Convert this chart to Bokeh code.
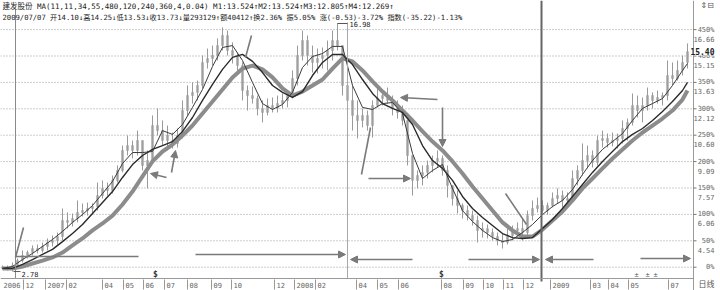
from bokeh.plotting import figure
from bokeh.models import Range1d, Arrow, NormalHead, Label
from bokeh.core.properties import value
from bokeh.embed import file_html
from bokeh.resources import INLINE

# ---------------- data (weekly bars) ----------------
bar_open = [3.01, 2.96, 3.01, 3.13, 3.41, 3.70, 3.87, 4.10, 3.99, 4.22,
            4.45, 4.56, 4.79, 5.71, 5.60, 5.82, 6.17, 6.28, 6.40, 6.51,
            7.14, 7.55, 7.43, 8.01, 8.58, 9.73, 10.01, 9.73, 10.30, 8.87,
            9.15, 11.16, 10.87, 10.30, 10.30, 10.13, 10.59, 12.02, 12.88, 13.06,
            13.46, 14.78, 15.01, 15.18, 15.75, 16.33, 15.47, 15.18, 14.60, 13.17,
            12.88, 12.71, 12.14, 11.91, 12.31, 12.14, 12.42, 12.60, 12.88, 13.86,
            15.18, 16.04, 15.18, 14.78, 15.01, 15.18, 15.47, 16.04, 15.75, 13.46,
            12.60, 11.74, 11.45, 11.74, 11.16, 12.31, 12.71, 12.88, 12.60, 12.14,
            11.91, 11.45, 9.44, 8.01, 8.29, 8.47, 8.87, 9.15, 9.27, 8.58,
            7.72, 6.97, 6.57, 6.28, 5.99, 5.71, 5.14, 5.25, 5.02, 4.79,
            4.56, 4.45, 4.85, 5.14, 5.25, 5.02, 5.99, 6.40, 6.57, 6.28,
            6.57, 6.97, 7.14, 6.86, 6.97, 8.12, 8.58, 9.15, 9.44, 9.04,
            10.30, 10.42, 10.19, 10.30, 10.42, 10.99, 11.34, 12.31, 12.02, 12.31,
            12.88, 12.60, 12.77, 12.88, 14.03, 13.86, 14.32, 14.78]
bar_high = [3.13, 3.13, 3.30, 3.53, 3.99, 3.99, 4.28, 4.33, 4.45, 4.68,
            4.85, 5.02, 6.40, 6.17, 6.11, 6.86, 6.69, 6.74, 6.69, 7.89,
            8.01, 7.89, 8.29, 8.87, 10.01, 10.59, 10.30, 10.87, 10.30, 9.73,
            11.74, 12.14, 11.45, 11.16, 10.76, 10.99, 12.60, 13.46, 13.63, 13.74,
            15.18, 15.58, 15.75, 16.16, 16.79, 16.61, 15.93, 15.35, 14.78, 13.46,
            13.40, 12.88, 12.60, 12.71, 12.77, 12.88, 13.00, 13.17, 14.32, 15.75,
            16.61, 16.33, 15.75, 15.58, 15.64, 16.04, 16.61, 16.98, 15.47, 14.03,
            13.46, 12.60, 12.14, 12.02, 12.60, 13.29, 13.17, 13.34, 12.88, 12.60,
            12.31, 11.45, 9.15, 8.58, 8.87, 9.15, 9.44, 9.73, 9.44, 8.87,
            7.72, 7.43, 6.69, 6.57, 6.28, 5.99, 5.60, 5.48, 5.25, 5.02,
            4.96, 5.25, 5.42, 5.60, 5.82, 6.28, 6.86, 7.03, 6.86, 6.74,
            7.32, 7.55, 7.43, 7.32, 8.58, 8.87, 10.13, 10.01, 9.73, 10.59,
            10.87, 10.70, 10.76, 10.70, 11.45, 11.56, 13.00, 12.88, 12.77, 13.34,
            13.06, 13.17, 13.06, 14.89, 14.78, 14.89, 15.18, 15.87]
bar_low = [2.90, 2.84, 2.78, 3.07, 3.30, 3.53, 3.70, 3.82, 3.87, 3.99,
           4.22, 4.33, 4.56, 5.25, 5.37, 5.60, 5.94, 5.99, 6.05, 6.28,
           6.97, 7.14, 7.26, 7.89, 8.47, 9.44, 9.27, 9.44, 8.58, 7.55,
           9.04, 10.59, 10.01, 9.73, 9.84, 9.90, 10.42, 11.74, 12.42, 12.60,
           13.29, 14.43, 14.60, 14.89, 15.47, 15.18, 14.72, 14.20, 12.60, 12.02,
           12.42, 11.74, 11.34, 11.74, 11.91, 11.91, 12.14, 12.20, 12.71, 13.46,
           14.89, 14.60, 14.20, 14.15, 14.43, 14.32, 14.89, 15.47, 12.88, 11.62,
           10.87, 10.42, 11.05, 10.87, 10.47, 12.20, 12.31, 12.42, 11.74, 11.56,
           11.16, 8.87, 7.14, 7.55, 7.72, 8.12, 8.47, 8.75, 8.29, 7.03,
           6.57, 6.11, 5.82, 5.71, 5.42, 4.45, 4.73, 4.68, 4.56, 4.28,
           4.10, 4.33, 4.56, 4.79, 4.56, 4.73, 5.71, 6.17, 6.11, 6.05,
           6.46, 6.69, 6.46, 6.51, 6.86, 7.72, 8.29, 8.70, 8.75, 8.87,
           9.90, 9.90, 9.96, 9.84, 10.13, 10.30, 11.16, 11.62, 11.34, 12.02,
           12.14, 12.42, 12.31, 12.60, 13.46, 13.74, 14.03, 14.43]
bar_close = [2.96, 3.01, 3.13, 3.41, 3.70, 3.87, 4.10, 3.99, 4.22, 4.45,
             4.56, 4.79, 5.71, 5.60, 5.82, 6.17, 6.28, 6.40, 6.51, 7.14,
             7.55, 7.43, 8.01, 8.58, 9.73, 10.01, 9.73, 10.30, 8.87, 9.15,
             11.16, 10.87, 10.30, 10.59, 10.13, 10.59, 12.02, 12.88, 13.06, 13.46,
             14.78, 15.01, 15.18, 15.75, 16.33, 15.47, 15.18, 14.60, 13.17, 12.88,
             12.71, 12.14, 11.91, 12.31, 12.14, 12.42, 12.60, 12.88, 13.86, 15.18,
             16.04, 15.18, 14.78, 15.01, 15.18, 15.47, 16.04, 15.75, 13.46, 12.60,
             11.74, 11.45, 11.74, 11.16, 12.31, 12.71, 12.88, 12.60, 12.14, 11.91,
             11.45, 9.44, 8.01, 8.29, 8.47, 8.87, 9.15, 9.27, 8.58, 7.72,
             6.97, 6.57, 6.28, 5.99, 5.71, 5.14, 5.25, 5.02, 4.79, 4.56,
             4.45, 4.85, 5.14, 5.25, 5.02, 5.99, 6.40, 6.57, 6.28, 6.57,
             6.97, 7.14, 6.86, 6.97, 8.12, 8.58, 9.15, 9.44, 9.04, 10.30,
             10.42, 10.19, 10.30, 10.42, 10.99, 11.34, 12.31, 12.02, 12.31, 12.88,
             12.60, 12.77, 12.88, 14.03, 13.86, 14.32, 14.78, 15.40]

# moving averages, read every second bar (plus the last bar)
ma11 = [2.96, 3.07, 3.47, 3.82, 4.22, 4.62, 5.08, 5.60, 6.05, 6.57,
        7.26, 7.95, 8.98, 9.61, 9.61, 9.67, 10.87, 10.65, 11.22, 12.20,
        13.23, 14.55, 15.64, 15.75, 14.89, 13.63, 12.42, 12.08, 12.37, 13.06,
        14.49, 15.12, 15.29, 15.70, 15.70, 13.46, 12.20, 12.08, 12.42, 12.48,
        11.85, 9.56, 8.12, 8.58, 8.92, 7.55, 6.28, 5.65, 5.14, 4.73,
        4.50, 4.62, 5.02, 5.48, 6.05, 6.51, 6.86, 7.49, 8.35, 9.15,
        9.79, 10.24, 10.70, 11.45, 12.14, 12.42, 12.71, 13.46, 14.32, 14.72]
ma34 = [2.96, 2.96, 3.19, 3.47, 3.76, 4.05, 4.50, 4.96, 5.48, 6.11,
        6.74, 7.37, 8.18, 8.92, 9.44, 9.79, 10.01, 10.24, 10.82, 11.62,
        12.60, 13.52, 14.38, 15.07, 15.24, 14.84, 14.20, 13.46, 13.06, 12.77,
        13.11, 14.03, 14.78, 15.24, 15.24, 14.66, 13.80, 13.00, 12.42, 12.14,
        11.91, 11.22, 10.01, 9.15, 8.70, 8.01, 7.09, 6.40, 5.88, 5.42,
        4.96, 4.73, 4.68, 4.73, 5.25, 5.77, 6.40, 7.09, 7.78, 8.47,
        9.10, 9.67, 10.24, 10.65, 10.99, 11.45, 11.97, 12.54, 13.17, 13.63]
ma55 = [2.96, 2.96, 3.07, 3.24, 3.41, 3.59, 3.87, 4.28, 4.68, 5.14,
        5.54, 5.99, 6.63, 7.37, 8.24, 9.10, 9.67, 10.07, 10.59, 11.16,
        11.85, 12.54, 13.23, 13.92, 14.43, 14.60, 14.38, 13.92, 13.29, 12.88,
        13.11, 13.46, 13.80, 14.43, 15.01, 14.84, 14.32, 13.69, 13.11, 12.60,
        12.02, 11.45, 10.82, 10.24, 9.73, 9.10, 8.41, 7.66, 6.97, 6.28,
        5.60, 5.14, 4.79, 4.79, 5.19, 5.71, 6.23, 6.86, 7.55, 8.12,
        8.70, 9.27, 9.79, 10.30, 10.76, 11.16, 11.56, 12.02, 12.65, 13.17]

# x axis: month labels and the trading-session index where each month starts
month_labels = ["2006", "12", "2007", "02", "04", "05", "06", "07", "08", "09", "10", "12",
                "2008", "02", "04", "05", "06", "08", "09", "10", "11", "12",
                "2009", "03", "04", "05", "07"]
month_sessions = [1, 23, 45, 66, 102, 123, 143, 164, 187, 211, 231, 274,
                  294, 315, 356, 377, 398, 441, 463, 483, 503, 523,
                  550, 590, 608, 628, 668]

# right axis: percentage levels relative to the base price
base_price = 3.03
pct_levels = [0, 50, 100, 150, 200, 250, 300, 350, 400, 450]
pct_labels = ["0%", "50%", "100%", "150%", "200%", "250%", "300%", "350%", "400%", "450%"]
price_labels = ["", "4.54", "6.06", "7.57", "9.09", "10.60", "12.12", "13.63", "15.15", "16.66"]
last_price = "15.40"
high_price, low_price = 16.98, 2.78

header1 = "建发股份 MA(11,11,34,55,480,120,240,360,4,0.04) M1:13.524↑M2:13.524↑M3:12.805↑M4:12.269↑"
header2 = "2009/07/07 开14.10↓高14.25↓低13.53↓收13.73↓量293129↑额40412↑换2.36% 振5.05% 涨(-0.53)-3.72% 指数(-35.22)-1.13%"

# ---------------- figure ----------------
K = 1.515 / 26.4            # price per screen pixel
TOP = 3.03 + 266.7 * K      # price at the top edge


def Y(py):
    """screen pixel row -> price (used for annotation placement)"""
    return TOP - py * K


FONT_NAME = "DejaVu Sans Mono, Noto Sans CJK SC"
FONT = value(FONT_NAME)
p = figure(width=720, height=290, x_range=Range1d(0, 720), y_range=Range1d(TOP - 290 * K, TOP),
           x_axis_type=None, y_axis_type=None, toolbar_location=None,
           output_backend="svg", min_border=0)
p.outline_line_color = None
p.background_fill_color = "white"
p.border_fill_color = "white"

RIGHT = 693

# dotted grid
levels = [base_price * (1 + v / 100) for v in pct_levels]
p.segment(x0=[0] * len(levels), x1=[RIGHT] * len(levels), y0=levels, y1=levels,
          line_color="#9a9a9a", line_width=1, line_dash="1 2")

# candles
n = len(bar_close)
days = [5 * i + 2 for i in range(n)]
p.segment(x0=days, x1=days, y0=bar_low, y1=bar_high, line_color="#9a9a9a", line_width=1)
tops = [max(o, c) for o, c in zip(bar_open, bar_close)]
bots = [min(o, c) for o, c in zip(bar_open, bar_close)]
p.vbar(x=days, top=tops, bottom=bots, width=1.8, fill_color="#a0a0a0", line_color="#9a9a9a", line_width=0.5)

# moving averages
ma_days = days[::2] + [days[-1]]
p.line(ma_days, ma55, line_color="#8c8c8c", line_width=4)
p.line(ma_days, ma34, line_color="#2a2a2a", line_width=1.4)
p.line(ma_days, ma11, line_color="#3a3a3a", line_width=1)

# vertical marker lines and frame
p.segment(x0=[15], x1=[15], y0=[Y(8)], y1=[Y(278)], line_color="#8a8a8a", line_width=1)
p.segment(x0=[347], x1=[347], y0=[Y(22)], y1=[Y(278)], line_color="#a8a8a8", line_width=1)
p.segment(x0=[541], x1=[541], y0=[Y(0)], y1=[Y(281)], line_color="#666666", line_width=2)
p.segment(x0=[RIGHT], x1=[RIGHT], y0=[Y(0)], y1=[Y(290)], line_color="#9a9a9a", line_width=1)
p.segment(x0=[0], x1=[RIGHT], y0=[Y(278)], y1=[Y(278)], line_color="#9a9a9a", line_width=1)

# x axis ticks and labels
p.segment(x0=month_sessions[1:], x1=month_sessions[1:], y0=[Y(279)] * (len(month_sessions) - 1),
          y1=[Y(289)] * (len(month_sessions) - 1), line_color="#999999", line_width=1)
p.text(x=[s + 2 for s in month_sessions], y=[Y(284)] * len(month_sessions), text=month_labels,
       text_font=FONT, text_font_size=value("7px"), text_color="#666666",
       text_align="left", text_baseline="middle")
p.text(x=[698], y=[Y(284)], text=["日线"], text_font=FONT, text_font_size=value("8px"),
       text_color="#555555", text_align="left", text_baseline="middle")

# right axis labels
p.text(x=[714] * len(levels), y=levels, text=pct_labels, text_font=FONT,
       text_font_size=value("7px"), text_color="#666666", text_align="right", text_baseline="middle")
p.text(x=[714] * len(levels), y=[v - 9 * K for v in levels], text=price_labels, text_font=FONT,
       text_font_size=value("7px"), text_color="#666666", text_align="right", text_baseline="middle")
p.segment(x0=[RIGHT] * len(levels), x1=[RIGHT + 3] * len(levels), y0=levels, y1=levels,
          line_color="#777777", line_width=1)
p.add_layout(Label(x=714, y=bar_close[-1], text=last_price, text_align="right", text_baseline="middle",
                   text_font=FONT_NAME, text_font_size="8px", text_color="#222222",
                   background_fill_color="white", text_font_style="bold"))
p.text(x=[700], y=[Y(5)], text=["⇕⊟"], text_font=value("DejaVu Sans"), text_font_size=value("8px"),
       text_color="#555555", text_align="left", text_baseline="middle")

# header
p.text(x=[2], y=[Y(6)], text=[header1], text_font=FONT,
       text_font_size=value("7.5px"), text_color="#222222", text_align="left", text_baseline="middle")
p.text(x=[2], y=[Y(16.5)], text=[header2], text_font=FONT,
       text_font_size=value("7.2px"), text_color="#222222", text_align="left", text_baseline="middle")

# high / low markers
hi_i = bar_high.index(high_price)
p.line([days[hi_i], days[hi_i], 347], [high_price, Y(23), Y(23)], line_color="#555555", line_width=1)
p.text(x=[349], y=[Y(23)], text=[f"{high_price:.2f}"], text_font=FONT, text_font_size=value("7px"),
       text_color="#222222", text_align="left", text_baseline="middle")
lo_i = bar_low.index(low_price)
p.segment(x0=[days[lo_i] + 1], x1=[days[lo_i] + 8], y0=[low_price], y1=[low_price], line_color="#555555")
p.text(x=[days[lo_i] + 9], y=[Y(273)], text=[f"{low_price:.2f}"], text_font=FONT, text_font_size=value("7px"),
       text_color="#222222", text_align="left", text_baseline="middle")

# event marks on the time axis
p.text(x=[155, 441], y=[Y(274), Y(274)], text=["$", "$"], text_font=FONT, text_font_size=value("8px"),
       text_color="#333333", text_align="center", text_baseline="middle", text_font_style="bold")
p.text(x=[636, 647, 655], y=[Y(274)] * 3, text=["±", "±", "±"], text_font=FONT, text_font_size=value("7px"),
       text_color="#555555", text_align="center", text_baseline="middle")

# hand-drawn arrows (x in sessions, y in screen rows)
ARROWS = [
    (15, 256, 138, 256, False), (195, 254, 345, 254, True), (412, 259, 350, 259, True),
    (468, 259, 539, 259, True), (593, 259, 545, 259, True), (640, 258, 690, 258, True),
    (15, 257, 23, 227, False), (166, 177, 150, 173, True), (171, 172, 175, 150, True),
    (251, 35, 245, 57, False), (437, 99, 400, 97, True), (442, 107, 442, 146, True),
    (368, 178, 410, 178, True), (361, 174, 370, 127, False), (505, 193, 526, 224, False),
]
for x0, y0, x1, y1, head in ARROWS:
    p.add_layout(Arrow(x_start=x0, y_start=Y(y0), x_end=x1, y_end=Y(y1),
                       line_color="#7a7a7a", line_width=1.6,
                       end=NormalHead(size=7, fill_color="#7a7a7a", line_color="#7a7a7a") if head else None))

open("out.html", "w").write(file_html(p, INLINE))
